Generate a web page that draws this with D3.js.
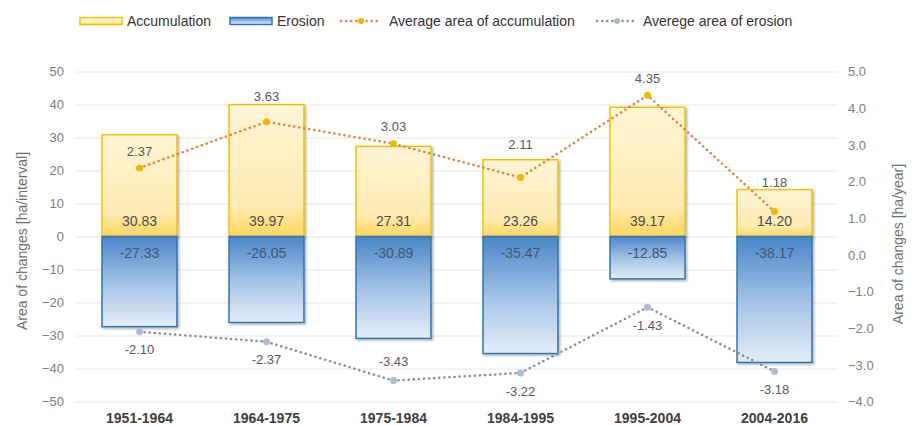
<!DOCTYPE html>
<html>
<head>
<meta charset="utf-8">
<script src="https://cdn.jsdelivr.net/npm/d3@7"></script>
<style>
  body { margin: 0; background: #fff; }
  text { font-family: "Liberation Sans", Arial, sans-serif; }
</style>
</head>
<body>
<script>
// data
var periods = ["1951-1964", "1964-1975", "1975-1984", "1984-1995", "1995-2004", "2004-2016"];
var accumulation = [30.83, 39.97, 27.31, 23.26, 39.17, 14.20];
var erosion = [-27.33, -26.05, -30.89, -35.47, -12.85, -38.17];
var avgAccumulation = [2.37, 3.63, 3.03, 2.11, 4.35, 1.18];
var avgErosion = [-2.10, -2.37, -3.43, -3.22, -1.43, -3.18];
var leftTicks = [50, 40, 30, 20, 10, 0, -10, -20, -30, -40, -50];
var rightTicks = [5, 4, 3, 2, 1, 0, -1, -2, -3, -4];

function main() {
    var width = 912, height = 425;
    var plot = {left: 76, right: 838, top: 71.5, bottom: 401.5};
    // the point labels were hand-placed in the original, px from the marker
    var accLabelDy = [-16, -25, -17, -33, -17, -29];
    var eroLabelDy = [18, 18, -19, 19, 18, 18];

    var svg = d3.select("body").append("svg")
        .attr("width", width)
        .attr("height", height);

    var defs = svg.append("defs");
    var gAcc = defs.append("linearGradient").attr("id", "gAcc")
        .attr("x1", 0).attr("y1", 0).attr("x2", 0).attr("y2", 1);
    gAcc.append("stop").attr("offset", "0%").attr("stop-color", "#fff5d6");
    gAcc.append("stop").attr("offset", "78%").attr("stop-color", "#ffeab0");
    gAcc.append("stop").attr("offset", "100%").attr("stop-color", "#ffd65a");
    var gEro = defs.append("linearGradient").attr("id", "gEro")
        .attr("x1", 0).attr("y1", 0).attr("x2", 0).attr("y2", 1);
    gEro.append("stop").attr("offset", "0%").attr("stop-color", "#4a86c8");
    gEro.append("stop").attr("offset", "55%").attr("stop-color", "#a8c6e8");
    gEro.append("stop").attr("offset", "100%").attr("stop-color", "#e3edf8");
    var shadow = defs.append("filter").attr("id", "shadow")
        .attr("x", "-10%").attr("y", "-10%").attr("width", "130%").attr("height", "130%");
    shadow.append("feDropShadow").attr("dx", 1.5).attr("dy", 1.5)
        .attr("stdDeviation", 1).attr("flood-color", "#000").attr("flood-opacity", 0.3);

    // scales
    var xScale = d3.scaleBand().domain(periods)
        .range([plot.left, plot.right]).paddingInner(0.41).paddingOuter(0.205);
    var yLeft = d3.scaleLinear().domain([-50, 50]).range([plot.bottom, plot.top]);
    var yRight = d3.scaleLinear().domain([-4, 5]).range([plot.bottom, plot.top]);

    // gridlines + left axis
    var leftAxis = svg.append("g")
        .attr("transform", "translate(" + plot.left + ",0)")
        .call(d3.axisLeft(yLeft).tickValues(leftTicks).tickSize(-(plot.right - plot.left)).tickPadding(12));
    leftAxis.select(".domain").remove();
    leftAxis.selectAll(".tick line").attr("stroke", "#e6e6e6").attr("stroke-width", 1);
    leftAxis.selectAll(".tick text").attr("fill", "#808080").style("font-size", "13px");

    // right axis (labels only)
    var rightAxis = svg.append("g")
        .attr("transform", "translate(" + plot.right + ",0)")
        .call(d3.axisRight(yRight).tickValues(rightTicks).tickSize(0).tickPadding(10)
            .tickFormat(d3.format(".1f")));
    rightAxis.select(".domain").remove();
    rightAxis.selectAll(".tick text").attr("fill", "#808080").style("font-size", "13px");

    // bars
    var bw = xScale.bandwidth();
    svg.append("g").selectAll("rect")
        .data(periods)
        .enter().append("rect")
        .attr("x", function(d) { return xScale(d); })
        .attr("y", function(d, i) { return yLeft(accumulation[i]); })
        .attr("width", bw)
        .attr("height", function(d, i) { return yLeft(0) - yLeft(accumulation[i]); })
        .attr("fill", "url(#gAcc)")
        .attr("stroke", "#f2c200").attr("stroke-width", 1.5)
        .attr("filter", "url(#shadow)");
    svg.append("g").selectAll("rect")
        .data(periods)
        .enter().append("rect")
        .attr("x", function(d) { return xScale(d); })
        .attr("y", yLeft(0))
        .attr("width", bw)
        .attr("height", function(d, i) { return yLeft(erosion[i]) - yLeft(0); })
        .attr("fill", "url(#gEro)")
        .attr("stroke", "#2e75b6").attr("stroke-width", 1.5)
        .attr("filter", "url(#shadow)");

    var cx = function(d) { return xScale(d) + bw / 2; };

    // bar labels
    svg.append("g").selectAll("text")
        .data(periods).enter().append("text")
        .attr("x", cx).attr("y", yLeft(0) - 11)
        .attr("text-anchor", "middle").attr("fill", "#4d4d4d").style("font-size", "14px")
        .text(function(d, i) { return accumulation[i].toFixed(2); });
    svg.append("g").selectAll("text")
        .data(periods).enter().append("text")
        .attr("x", cx).attr("y", yLeft(0) + 21)
        .attr("text-anchor", "middle").attr("fill", "#3f5670").style("font-size", "14px")
        .text(function(d, i) { return erosion[i].toFixed(2); });

    // average lines
    function lineFor(values) {
        return d3.line()
            .x(function(d) { return cx(d); })
            .y(function(d, i) { return yRight(values[i]); });
    }
    svg.append("path").datum(periods)
        .attr("d", lineFor(avgAccumulation))
        .attr("fill", "none").attr("stroke", "#ed7d31").attr("stroke-width", 2.5)
        .attr("stroke-dasharray", "0.1,5").attr("stroke-linecap", "round");
    svg.append("path").datum(periods)
        .attr("d", lineFor(avgErosion))
        .attr("fill", "none").attr("stroke", "#8a8a8a").attr("stroke-width", 2.5)
        .attr("stroke-dasharray", "0.1,5").attr("stroke-linecap", "round");

    svg.append("g").selectAll("circle")
        .data(periods).enter().append("circle")
        .attr("cx", cx).attr("cy", function(d, i) { return yRight(avgAccumulation[i]); })
        .attr("r", 3.5).attr("fill", "#f2b705");
    svg.append("g").selectAll("circle")
        .data(periods).enter().append("circle")
        .attr("cx", cx).attr("cy", function(d, i) { return yRight(avgErosion[i]); })
        .attr("r", 3.5).attr("fill", "#a9bdd6");

    svg.append("g").selectAll("text")
        .data(periods).enter().append("text")
        .attr("x", cx).attr("y", function(d, i) { return yRight(avgAccumulation[i]) + accLabelDy[i] + 4.5; })
        .attr("text-anchor", "middle").attr("fill", "#595959").style("font-size", "13px")
        .text(function(d, i) { return avgAccumulation[i].toFixed(2); });
    svg.append("g").selectAll("text")
        .data(periods).enter().append("text")
        .attr("x", cx).attr("y", function(d, i) { return yRight(avgErosion[i]) + eroLabelDy[i] + 4.5; })
        .attr("text-anchor", "middle").attr("fill", "#595959").style("font-size", "13px")
        .text(function(d, i) { return avgErosion[i].toFixed(2); });

    // x axis labels
    var xAxis = svg.append("g")
        .attr("transform", "translate(0," + plot.bottom + ")")
        .call(d3.axisBottom(xScale).tickSize(0).tickPadding(12));
    xAxis.select(".domain").remove();
    xAxis.selectAll(".tick text").attr("fill", "#404040")
        .style("font-size", "14px").style("font-weight", "bold");

    // axis titles
    svg.append("text")
        .attr("transform", "translate(27,241) rotate(-90)")
        .attr("text-anchor", "middle").attr("fill", "#6e6e6e").style("font-size", "14px")
        .text("Area of changes [ha/interval]");
    svg.append("text")
        .attr("transform", "translate(903,244) rotate(-90)")
        .attr("text-anchor", "middle").attr("fill", "#6e6e6e").style("font-size", "14px")
        .text("Area of changes [ha/year]");

    // legend
    var legend = svg.append("g").attr("transform", "translate(0,21)");
    legend.append("rect").attr("x", 80).attr("y", -3.5).attr("width", 42).attr("height", 7)
        .attr("fill", "url(#gAcc)").attr("stroke", "#f2c200").attr("stroke-width", 1.5);
    legend.append("rect").attr("x", 230).attr("y", -3.5).attr("width", 42).attr("height", 7)
        .attr("fill", "url(#gEro)").attr("stroke", "#2e75b6").attr("stroke-width", 1.5);
    legend.append("line").attr("x1", 341).attr("x2", 381).attr("y1", 0).attr("y2", 0)
        .attr("stroke", "#ed7d31").attr("stroke-width", 2.5)
        .attr("stroke-dasharray", "0.1,5").attr("stroke-linecap", "round");
    legend.append("circle").attr("cx", 361).attr("cy", 0).attr("r", 3).attr("fill", "#f2b705");
    legend.append("line").attr("x1", 597).attr("x2", 637).attr("y1", 0).attr("y2", 0)
        .attr("stroke", "#8a8a8a").attr("stroke-width", 2.5)
        .attr("stroke-dasharray", "0.1,5").attr("stroke-linecap", "round");
    legend.append("circle").attr("cx", 617).attr("cy", 0).attr("r", 3).attr("fill", "#a9bdd6");

    var legendText = [
        {x: 127, t: "Accumulation"},
        {x: 277, t: "Erosion"},
        {x: 389, t: "Average area of accumulation"},
        {x: 643, t: "Averege area of erosion"}
    ];
    legend.selectAll("text.lbl").data(legendText).enter().append("text")
        .attr("class", "lbl")
        .attr("x", function(d) { return d.x; }).attr("y", 5)
        .attr("fill", "#333").style("font-size", "14px")
        .text(function(d) { return d.t; });
}
main();
</script>
</body>
</html>
